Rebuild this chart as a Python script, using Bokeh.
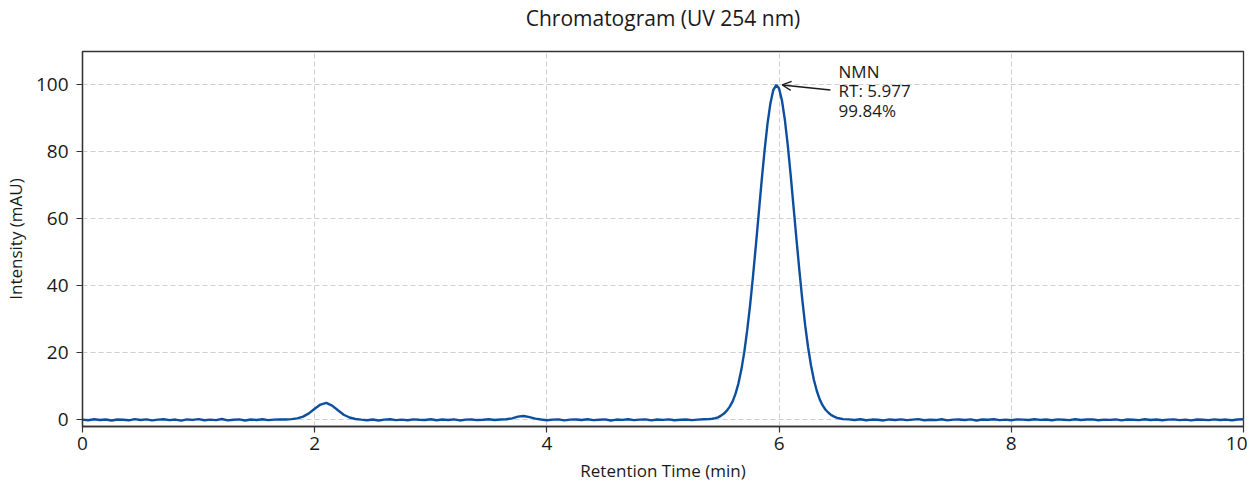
from bokeh.plotting import figure
from bokeh.models import Range1d, Label, Arrow, OpenHead, FixedTicker, LinearAxis
from bokeh.embed import file_html
from bokeh.resources import INLINE

# ---- data ----
time_a = [0.00, 0.05, 0.10, 0.15, 0.20, 0.25, 0.30, 0.35, 0.40, 0.45,
          0.50, 0.55, 0.60, 0.65, 0.70, 0.75, 0.80, 0.85, 0.90, 0.95,
          1.00, 1.05, 1.10, 1.15, 1.20, 1.25, 1.30, 1.35, 1.40, 1.45,
          1.50, 1.55, 1.60, 1.65, 1.70, 1.75, 1.80, 1.85, 1.90, 1.95,
          2.00, 2.05, 2.10, 2.15, 2.20, 2.25, 2.30, 2.35, 2.40, 2.45,
          2.50, 2.55, 2.60, 2.65, 2.70, 2.75, 2.80, 2.85, 2.90, 2.95,
          3.00, 3.05, 3.10, 3.15, 3.20, 3.25, 3.30, 3.35, 3.40, 3.45,
          3.50, 3.55, 3.60, 3.65, 3.70, 3.75, 3.80, 3.85, 3.90, 3.95,
          4.00, 4.05, 4.10, 4.15, 4.20, 4.25, 4.30, 4.35, 4.40, 4.45,
          4.50, 4.55, 4.60, 4.65, 4.70, 4.75, 4.80, 4.85, 4.90, 4.95,
          5.00, 5.05, 5.10, 5.15, 5.20, 5.25, 5.30, 5.35]
signal_a = [0.05, -0.12, 0.18, -0.05, 0.10, -0.22, 0.08, 0.02, -0.15, 0.21,
            -0.06, 0.12, -0.18, 0.04, 0.15, -0.10, 0.07, -0.24, 0.11, -0.03,
            0.19, -0.14, 0.06, -0.08, 0.23, -0.17, 0.02, 0.13, -0.20, 0.09,
            -0.04, 0.16, -0.11, 0.05, 0.14, 0.08, 0.20, 0.42, 0.95, 1.92,
            3.30, 4.55, 5.05, 4.25, 2.85, 1.50, 0.68, 0.25, 0.05, -0.12,
            0.10, -0.20, 0.04, 0.17, -0.09, 0.06, -0.15, 0.12, 0.02, -0.07,
            0.18, -0.13, 0.08, -0.04, 0.14, -0.19, 0.05, 0.11, -0.08, 0.03,
            0.15, -0.06, 0.10, 0.18, 0.42, 0.95, 1.15, 0.78, 0.35, 0.08,
            -0.14, 0.06, 0.12, -0.18, 0.04, 0.09, -0.07, 0.16, -0.11, 0.02,
            0.13, -0.21, 0.07, -0.03, 0.18, -0.09, 0.05, 0.11, -0.16, 0.08,
            -0.02, 0.14, -0.12, 0.03, 0.10, -0.08, 0.06, 0.15]

time_b = [5.400, 5.425, 5.450, 5.475, 5.500, 5.525, 5.550, 5.575, 5.600, 5.625,
          5.650, 5.675, 5.700, 5.725, 5.750, 5.775, 5.800, 5.825, 5.850, 5.875,
          5.900, 5.925, 5.950, 5.977, 6.000, 6.025, 6.050, 6.075, 6.100, 6.125,
          6.150, 6.175, 6.200, 6.225, 6.250, 6.275, 6.300, 6.325, 6.350, 6.375,
          6.400, 6.425, 6.450, 6.475, 6.500, 6.525, 6.550]
signal_b = [0.22, 0.30, 0.48, 0.72, 1.25, 1.85, 2.75, 3.95, 5.50, 7.80,
            10.9, 15.0, 20.2, 26.7, 34.2, 42.8, 52.1, 61.8, 71.5, 80.5,
            88.4, 94.5, 98.5, 100.0, 98.9, 95.3, 89.5, 81.9, 73.0, 63.4,
            53.8, 44.5, 35.8, 28.1, 21.6, 16.2, 11.9, 8.6, 6.1, 4.3,
            3.0, 2.1, 1.4, 0.95, 0.60, 0.38, 0.20]

time_c = [6.60, 6.65, 6.70, 6.75, 6.80, 6.85, 6.90, 6.95, 7.00, 7.05,
          7.10, 7.15, 7.20, 7.25, 7.30, 7.35, 7.40, 7.45, 7.50, 7.55,
          7.60, 7.65, 7.70, 7.75, 7.80, 7.85, 7.90, 7.95, 8.00, 8.05,
          8.10, 8.15, 8.20, 8.25, 8.30, 8.35, 8.40, 8.45, 8.50, 8.55,
          8.60, 8.65, 8.70, 8.75, 8.80, 8.85, 8.90, 8.95, 9.00, 9.05,
          9.10, 9.15, 9.20, 9.25, 9.30, 9.35, 9.40, 9.45, 9.50, 9.55,
          9.60, 9.65, 9.70, 9.75, 9.80, 9.85, 9.90, 9.95, 10.00]
signal_c = [0.12, -0.05, 0.16, -0.14, 0.07, 0.02, -0.19, 0.11, -0.06, 0.14,
            -0.10, 0.05, 0.19, -0.12, 0.03, -0.08, 0.15, -0.16, 0.06, 0.10,
            -0.04, 0.13, -0.20, 0.08, 0.01, 0.17, -0.09, 0.05, -0.13, 0.11,
            0.04, -0.07, 0.16, -0.02, 0.09, -0.15, 0.12, 0.03, -0.10, 0.18,
            -0.05, 0.07, 0.14, -0.12, 0.06, -0.03, 0.11, -0.17, 0.08, 0.02,
            -0.09, 0.15, -0.06, 0.10, -0.14, 0.04, 0.12, -0.08, 0.06, -0.18,
            0.09, 0.01, -0.11, 0.13, -0.04, 0.07, -0.12, 0.10, 0.16]

chart_title = "Chromatogram (UV 254 nm)"
peak_name = "NMN"
peak_rt = 5.977
peak_height = 100.0
peak_area_pct = 99.84

x_ticks = [0, 2, 4, 6, 8, 10]
y_ticks = [0, 20, 40, 60, 80, 100]

times = time_a + time_b + time_c
signal = signal_a + signal_b + signal_c

FONT = "Open Sans"

p = figure(width=1247, height=485, output_backend="svg", toolbar_location=None,
           x_range=Range1d(0, 10), y_range=Range1d(-2, 110),
           min_border_left=79, min_border_right=4, min_border_top=51, min_border_bottom=59)

p.line(times, signal, line_color="#0d4f9f", line_width=2.4)

for ax in (p.xaxis, p.yaxis):
    ax.axis_line_color = "#333333"
    ax.axis_line_width = 1.3
    ax.major_tick_line_color = "#333333"
    ax.major_tick_line_width = 1.2
    ax.major_tick_out = 6
    ax.major_tick_in = 0
    ax.minor_tick_line_color = None
    ax.major_label_text_font = FONT
    ax.major_label_text_font_size = "19px"
    ax.major_label_text_color = "#1a1a1a"
    ax.axis_label_text_font = FONT
    ax.axis_label_text_font_size = "17px"
    ax.axis_label_text_font_style = "normal"
    ax.axis_label_text_color = "#1a1a1a"

p.xaxis.ticker = FixedTicker(ticks=x_ticks)
p.yaxis.ticker = FixedTicker(ticks=y_ticks)
p.xaxis.axis_label = "Retention Time (min)"
p.yaxis.axis_label = "Intensity (mAU)"
p.xaxis.major_label_standoff = 4
p.yaxis.major_label_standoff = 8
p.xaxis.axis_label_standoff = 6
p.yaxis.axis_label_standoff = 6

# chart title drawn as the label of a bare axis above the frame
title_axis = LinearAxis(ticker=FixedTicker(ticks=[]), axis_label=chart_title,
                        axis_line_color=None, major_tick_line_color=None,
                        minor_tick_line_color=None, major_tick_out=0, major_tick_in=0,
                        major_label_standoff=0, axis_label_standoff=20,
                        axis_label_text_font=FONT, axis_label_text_font_size="21px",
                        axis_label_text_font_style="normal", axis_label_text_color="#1a1a1a")
p.add_layout(title_axis, "above")

p.xgrid.grid_line_color = "#cfcfcf"
p.ygrid.grid_line_color = "#cfcfcf"
p.xgrid.grid_line_dash = "5 3"
p.ygrid.grid_line_dash = "5 3"
p.xgrid.grid_line_width = 1
p.ygrid.grid_line_width = 1

p.outline_line_color = "#333333"
p.outline_line_width = 1.3
p.background_fill_color = "white"
p.border_fill_color = "white"

# annotation arrow and text
p.add_layout(Arrow(end=OpenHead(size=9, line_color="#1a1a1a", line_width=1.3),
                   x_start=peak_rt + 0.465, y_start=peak_height - 1.5,
                   x_end=peak_rt + 0.05, y_end=peak_height,
                   line_color="#1a1a1a", line_width=1.3))

ann_lines = [peak_name, f"RT: {peak_rt:.3f}", f"{peak_area_pct:.2f}%"]
for i, txt in enumerate(ann_lines):
    p.add_layout(Label(x=peak_rt + 0.535, y=peak_height + 4.1 - i * 5.85, text=txt,
                       text_font=FONT, text_font_size="17px", text_color="#1a1a1a",
                       text_baseline="alphabetic", text_align="left"))

open("out.html", "w").write(file_html(p, INLINE))
